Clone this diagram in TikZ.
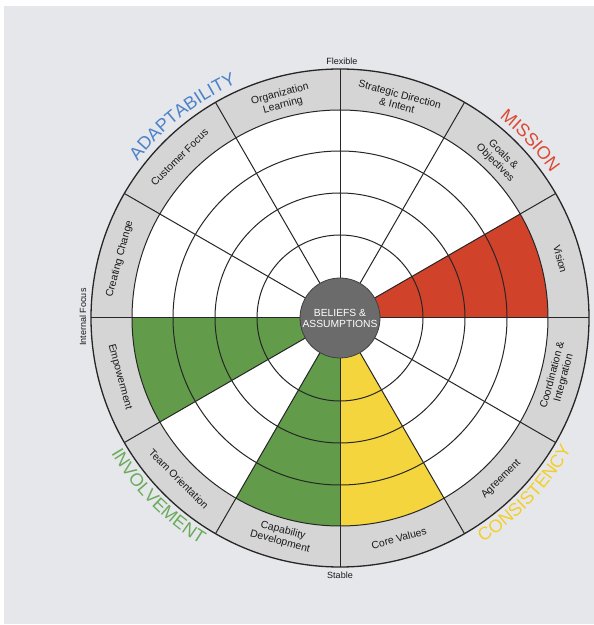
\documentclass[tikz,border=0pt]{standalone}
\usepackage{fontspec}
\setmainfont{Liberation Sans}
\usetikzlibrary{decorations.text}
\definecolor{bg}{HTML}{E6E7EB}
\definecolor{ringgray}{HTML}{D5D5D5}
\definecolor{corefill}{HTML}{6B6B6B}
\definecolor{redfill}{HTML}{D1422B}
\definecolor{greenfill}{HTML}{629C4B}
\definecolor{yellowfill}{HTML}{F5D53D}
\definecolor{adaptblue}{HTML}{4B82C9}
\definecolor{missionred}{HTML}{DA4A33}
\definecolor{consyellow}{HTML}{F3CE2A}
\definecolor{involvegreen}{HTML}{6BAA5B}
\newcommand{\segfont}{\fontsize{10.4}{11.5}\selectfont}
\newcommand{\quadfont}{\fontsize{18}{18}\selectfont}
\begin{document}
\begin{tikzpicture}[x=1pt,y=1pt,
  gridline/.style={line width=1pt, draw=black!85},
  seglabel/.style={font=\segfont, align=center, inner sep=0pt, text=black!90},
  axislabel/.style={font=\fontsize{9}{9}\selectfont, inner sep=0pt, text=black!90},
  quadlabel/.style={decorate, decoration={text along path, text align=center, text color=#1}},
]
\useasboundingbox (0,0) rectangle (594,625);
\fill[white] (0,0) rectangle (594,625);
\fill[bg] (4,1) rectangle (594,619);
\coordinate (C) at (340,307);
\fill[ringgray] (C) circle[radius=249];
\fill[white] (C) circle[radius=208];
% coloured sectors
\fill[redfill] (C) -- ++(0:208) arc[start angle=0,end angle=30,radius=208] -- cycle;
\fill[greenfill] (C) -- ++(180:208) arc[start angle=180,end angle=210,radius=208] -- cycle;
\fill[greenfill] (C) -- ++(240:208) arc[start angle=240,end angle=270,radius=208] -- cycle;
\fill[yellowfill] (C) -- ++(270:208) arc[start angle=270,end angle=300,radius=208] -- cycle;
% rings and spokes
\foreach \r in {83,125,167,208} \draw[gridline] (C) circle[radius=\r];
\draw[gridline, line width=1.3pt] (C) circle[radius=249];
\foreach \a in {0,30,...,330} \draw[gridline] ([shift={(\a:40)}]C) -- ([shift={(\a:249)}]C);
% core
\node[circle, fill=corefill, draw=black!75, line width=0.8pt, minimum size=80pt, inner sep=0pt,
      text=white, align=center, font=\fontsize{10.3}{11}\selectfont] (core) at (C) {BELIEFS \&\\ASSUMPTIONS};
% segment labels
\node[seglabel, rotate=-75] (vision) at ([shift={(15:228)}]C) {Vision};
\node[seglabel, rotate=-45] (goals) at ([shift={(45:225)}]C) {Goals \&\\Objectives};
\node[seglabel, rotate=-15] (strategic) at ([shift={(75:226)}]C) {Strategic Direction\\\& Intent};
\node[seglabel, rotate=15] (orglearn) at ([shift={(105:226)}]C) {Organization\\Learning};
\node[seglabel, rotate=45] (custfocus) at ([shift={(135:227)}]C) {Customer Focus};
\node[seglabel, rotate=75] (creating) at ([shift={(165:228)}]C) {Creating Change};
\node[seglabel, rotate=-75] (empower) at ([shift={(195:228)}]C) {Empowerment};
\node[seglabel, rotate=-45] (team) at ([shift={(225:228)}]C) {Team Orientation};
\node[seglabel, rotate=-15] (capability) at ([shift={(255:226)}]C) {Capability\\Development};
\node[seglabel, rotate=15] (corevalues) at ([shift={(285:228)}]C) {Core Values};
\node[seglabel, rotate=45] (agreement) at ([shift={(315:228)}]C) {Agreement};
\node[seglabel, rotate=75] (coord) at ([shift={(345:226)}]C) {Coordination \&\\Integration};
% axis labels
\node[axislabel] (flexible) at (342,564) {Flexible};
\node[axislabel] (stable) at (340,50) {Stable};
\node[axislabel, rotate=90] (internal) at (83,308) {Internal Focus};
% quadrant labels
\path[quadlabel=adaptblue, decoration={text={|\quadfont|ADAPTABILITY}}]
  ([shift={(170:256)}]C) arc[start angle=170, end angle=86, radius=256];
\path[quadlabel=missionred, decoration={text={|\quadfont|MISSION}}]
  ([shift={(80:256)}]C) arc[start angle=80, end angle=6, radius=256];
\path[quadlabel=consyellow, decoration={text={|\quadfont|CONSISTENCY}}]
  ([shift={(-80:266)}]C) arc[start angle=-80, end angle=-7, radius=266];
\path[quadlabel=involvegreen, decoration={text={|\quadfont|INVOLVEMENT}}]
  ([shift={(188:266)}]C) arc[start angle=188, end angle=261, radius=266];
\end{tikzpicture}
\end{document}
